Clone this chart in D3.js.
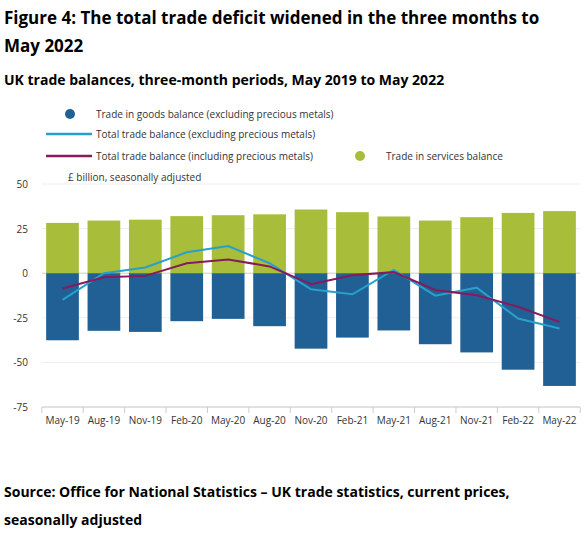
<!DOCTYPE html>
<html><head><meta charset="utf-8">
<script src="https://cdn.jsdelivr.net/npm/d3@7"></script>
<style>body{margin:0;background:#fff;font-family:"Open Sans",sans-serif;color:#222}</style>
</head><body><svg id="chart" width="584" height="536"></svg>
<script>
// Data
var periods = ["May-19","Aug-19","Nov-19","Feb-20","May-20","Aug-20","Nov-20","Feb-21","May-21","Aug-21","Nov-21","Feb-22","May-22"];
var goods = [-37.6,-32.3,-32.9,-26.9,-25.6,-29.7,-42.3,-36.1,-32.1,-39.8,-44.4,-54.1,-63.2];
var services = [28.2,29.5,30,32,32.5,33,35.7,34.2,31.8,29.5,31.4,33.8,34.8];
var totalExcl = [-15,0,3.2,11.7,15.2,5.6,-9,-11.8,1.9,-12.6,-8.1,-25.4,-31];
var totalIncl = [-8.6,-2.3,-1.5,5.6,7.7,3.8,-6.2,-1.1,0.6,-9.4,-12.4,-18.8,-27.3];
var yTicks = [50,25,0,-25,-50,-75];

var svg = d3.select("#chart");
var margin = {left: 42, right: 4, top: 184, bottom: 129};
var width = 584 - margin.left - margin.right;
var height = 536 - margin.top - margin.bottom;

// Titles
svg.append("text").attr("x", 4).attr("y", 24).style("font-size", "17px").style("font-weight", "bold").text("Figure 4: The total trade deficit widened in the three months to");
svg.append("text").attr("x", 4).attr("y", 52).style("font-size", "17px").style("font-weight", "bold").text("May 2022");
svg.append("text").attr("x", 4).attr("y", 85).style("font-size", "14px").style("font-weight", "bold").text("UK trade balances, three-month periods, May 2019 to May 2022");

// Legend
var lg = svg.append("g").style("font-size", "10px").style("fill", "#333");
lg.append("circle").attr("cx", 70).attr("cy", 114).attr("r", 5).attr("fill", "#206095");
lg.append("text").attr("x", 96).attr("y", 118).text("Trade in goods balance (excluding precious metals)");
lg.append("line").attr("x1", 46).attr("x2", 92).attr("y1", 134).attr("y2", 134).attr("stroke", "#27a0cc").attr("stroke-width", 2.5);
lg.append("text").attr("x", 96).attr("y", 138).text("Total trade balance (excluding precious metals)");
lg.append("line").attr("x1", 46).attr("x2", 92).attr("y1", 156).attr("y2", 156).attr("stroke", "#871a5b").attr("stroke-width", 2.5);
lg.append("text").attr("x", 96).attr("y", 160).text("Total trade balance (including precious metals)");
lg.append("circle").attr("cx", 360).attr("cy", 156).attr("r", 5).attr("fill", "#a8bd3a");
lg.append("text").attr("x", 386).attr("y", 160).text("Trade in services balance");

var g = svg.append("g").attr("transform", `translate(${margin.left}, ${margin.top})`);

var x = d3.scaleBand().domain(periods).range([0, width]).paddingInner(0.21).paddingOuter(0.1);
var y = d3.scaleLinear().domain([-75, 50]).range([height, 0]);

// Gridlines and y labels
yTicks.forEach(function(t) {
  g.append("line").attr("x1", 0).attr("x2", width).attr("y1", y(t)).attr("y2", y(t))
    .attr("stroke", t === 0 ? "#ccc" : "#eee");
  g.append("text").attr("x", -14).attr("y", y(t) + 4).attr("text-anchor", "end")
    .style("font-size", "10px").style("fill", "#333").text(t);
});
g.append("text").attr("x", 26).attr("y", -3).style("font-size", "10px").style("fill", "#333").text("£ billion, seasonally adjusted");

// Bars
g.selectAll(".svc").data(periods).enter().append("rect")
  .attr("x", d => x(d)).attr("width", x.bandwidth())
  .attr("y", (d, i) => y(services[i])).attr("height", (d, i) => y(0) - y(services[i]))
  .attr("fill", "#a8bd3a");
g.selectAll(".gds").data(periods).enter().append("rect")
  .attr("x", d => x(d)).attr("width", x.bandwidth())
  .attr("y", y(0)).attr("height", (d, i) => y(goods[i]) - y(0))
  .attr("fill", "#206095");

// Lines
var line = d3.line().x((d, i) => x(periods[i]) + x.bandwidth() / 2).y(d => y(d));
g.append("path").datum(totalExcl).attr("d", line).attr("fill", "none").attr("stroke", "#27a0cc").attr("stroke-width", 2);
g.append("path").datum(totalIncl).attr("d", line).attr("fill", "none").attr("stroke", "#871a5b").attr("stroke-width", 2);

// X axis with band separators
var step = x.step();
var ax = g.append("g").attr("transform", `translate(0, ${height})`);
d3.range(periods.length + 1).forEach(function(i) {
  var px = x(periods[0]) - step * 0.105 + i * step;
  ax.append("line").attr("x1", px).attr("x2", px).attr("y1", 0).attr("y2", 6).attr("stroke", "#ccc");
});
ax.append("line").attr("x1", 0).attr("x2", width).attr("stroke", "#ccc");
ax.selectAll("text").data(periods).enter().append("text")
  .attr("x", d => x(d) + x.bandwidth() / 2).attr("y", 17).attr("text-anchor", "middle")
  .style("font-size", "10px").style("fill", "#333").text(d => d);

// Source
svg.append("text").attr("x", 4).attr("y", 497).style("font-size", "14px").style("font-weight", "bold").text("Source: Office for National Statistics – UK trade statistics, current prices,");
svg.append("text").attr("x", 4).attr("y", 525).style("font-size", "14px").style("font-weight", "bold").text("seasonally adjusted");
</script></body></html>
